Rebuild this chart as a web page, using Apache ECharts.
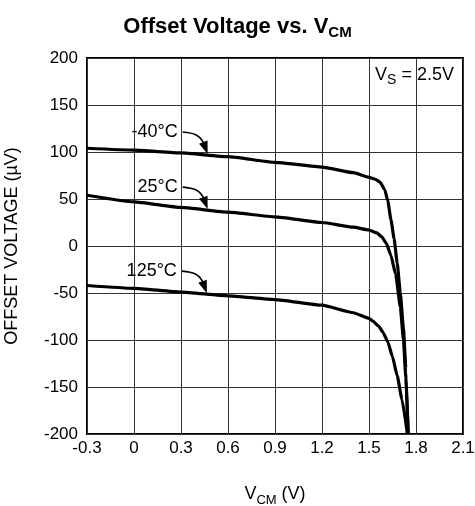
<!DOCTYPE html>
<html><head><meta charset="utf-8">
<script src="https://cdn.jsdelivr.net/npm/echarts@6/dist/echarts.min.js"></script>
<style>html,body{margin:0;padding:0;background:#fff}#c{width:475px;height:506px}</style>
</head><body><div id="c"></div>
<script>
// Tick labels
const xTickLabels = ['-0.3','0','0.3','0.6','0.9','1.2','1.5','1.8','2.1'];
const yTickLabels = ['-200','-150','-100','-50','0','50','100','150','200'];

// -40°C
const xM40 = [-0.3, 0, 0.3, 0.6, 0.9, 1.2, 1.4, 1.5, 1.54, 1.57, 1.6, 1.62, 1.64, 1.66, 1.68, 1.70, 1.72, 1.735, 1.75];
const yM40 = [104, 102, 99, 95, 89, 84, 78, 73, 71, 68, 60, 48, 28, 8, -18, -50, -88, -130, -200];
// 25°C
const x25 = [-0.3, 0, 0.3, 0.6, 0.9, 1.2, 1.4, 1.5, 1.55, 1.58, 1.61, 1.64, 1.67, 1.70, 1.72, 1.735, 1.75];
const y25 = [54, 47, 41, 36, 31, 25, 20, 17, 14, 10, 3, -10, -30, -65, -100, -140, -200];
// 125°C
const x125 = [-0.3, 0, 0.3, 0.6, 0.9, 1.2, 1.4, 1.5, 1.525, 1.56, 1.59, 1.62, 1.65, 1.68, 1.71, 1.745];
const y125 = [-42, -45, -49, -53, -57, -63, -71, -77, -80, -85, -92, -102, -118, -138, -163, -200];

const seriesNames = ['-40°C', '25°C', '125°C'];
const seriesX = [xM40, x25, x125];
const seriesY = [yM40, y25, y125];
const arrowX = [0.47, 0.47, 0.465];

const FONT = '"Liberation Sans", Arial, Helvetica, sans-serif';
const chart = echarts.init(document.getElementById('c'), null, {renderer: 'canvas'});

function interp(xs, ys, x) {
  for (let i = 0; i < xs.length - 1; i++) {
    if (x >= xs[i] && x <= xs[i+1]) {
      const t = (x - xs[i]) / (xs[i+1] - xs[i]);
      return ys[i] + t * (ys[i+1] - ys[i]);
    }
  }
  return ys[ys.length-1];
}

const option = {
  backgroundColor: '#fff',
  animation: false,
  title: {
    text: 'Offset Voltage vs. V{s|CM}',
    left: 'center',
    top: 8,
    textStyle: {
      fontFamily: FONT, fontSize: 22, fontWeight: 'bold', color: '#000',
      rich: { s: { fontFamily: FONT, fontSize: 15, fontWeight: 'bold', color: '#000', padding: [12, 0, 0, 0] } }
    }
  },
  grid: { left: 87, right: 12, top: 58, bottom: 72, show: true, borderColor: '#000', borderWidth: 2, backgroundColor: 'transparent', outerBoundsMode: 'none', containLabel: false },
  xAxis: {
    type: 'value', min: -0.3, max: 2.1, interval: 0.3,
    name: 'V{s|CM} (V)', nameLocation: 'middle', nameGap: 48,
    nameTextStyle: { fontFamily: FONT, fontSize: 18, color: '#000',
      rich: { s: { fontFamily: FONT, fontSize: 13, color: '#000', padding: [12, 0, 0, 0] } } },
    axisLine: { show: false }, axisTick: { show: false },
    axisLabel: { fontFamily: FONT, fontSize: 17, color: '#000', margin: 6,
      formatter: (v) => { const i = Math.round((v + 0.3) / 0.3); return xTickLabels[i] ?? ''; } },
    splitLine: { show: true, lineStyle: { color: '#333', width: 1 } }
  },
  yAxis: {
    type: 'value', min: -200, max: 200, interval: 50,
    name: 'OFFSET VOLTAGE (µV)', nameLocation: 'middle', nameGap: 66, nameRotate: 90,
    nameTextStyle: { fontFamily: FONT, fontSize: 18, color: '#000' },
    axisLine: { show: false }, axisTick: { show: false },
    axisLabel: { fontFamily: FONT, fontSize: 17, color: '#000', margin: 9,
      formatter: (v) => { const i = Math.round((v + 200) / 50); return yTickLabels[i] ?? ''; } },
    splitLine: { show: true, lineStyle: { color: '#333', width: 1 } }
  },
  series: seriesNames.map((n, k) => ({
    name: n, type: 'line', showSymbol: false, symbol: 'none',
    smooth: 0.15, smoothMonotone: 'x',
    lineStyle: { color: '#000', width: 3.2 },
    data: seriesX[k].map((x, i) => [x, seriesY[k][i]])
  }))
};
chart.setOption(option);

// Annotations
const graphics = [];
seriesNames.forEach((n, k) => {
  const ax = arrowX[k];
  const ay = interp(seriesX[k], seriesY[k], ax);
  const T = chart.convertToPixel({gridIndex: 0}, [ax, ay]);
  const tx = T[0], ty = T[1] - 1;
  const S = [tx - 25, ty - 22];
  const B = [tx - 4, ty - 11];
  graphics.push({
    type: 'bezierCurve',
    shape: { x1: S[0], y1: S[1], x2: B[0], y2: B[1], cpx1: S[0] + 12, cpy1: S[1] + 1, cpx2: B[0] - 4, cpy2: B[1] - 8 },
    style: { stroke: '#000', lineWidth: 1.6, fill: null }, z: 10
  });
  const dx = tx - B[0], dy = ty - B[1];
  const L = Math.hypot(dx, dy); const ux = dx / L, uy = dy / L;
  const px = -uy, py = ux; const hw = 4.5;
  graphics.push({
    type: 'polygon',
    shape: { points: [[tx, ty], [B[0] + px * hw - ux * 1, B[1] + py * hw - uy * 1], [B[0] - px * hw - ux * 1, B[1] - py * hw - uy * 1]] },
    style: { fill: '#000' }, z: 10
  });
  graphics.push({
    type: 'text',
    x: S[0] - 5, y: S[1],
    style: { text: n, font: '18px ' + FONT, fill: '#000', align: 'right', verticalAlign: 'middle' }, z: 10
  });
});
graphics.push({
  type: 'text', right: 21, top: 66,
  style: { text: 'V{s|S} = 2.5V', font: '18px ' + FONT, fill: '#000',
    rich: { s: { font: '14px ' + FONT, fill: '#000', padding: [11, 0, 0, 0] } } }, z: 10
});
chart.setOption({ graphic: graphics });
</script>
</body></html>
